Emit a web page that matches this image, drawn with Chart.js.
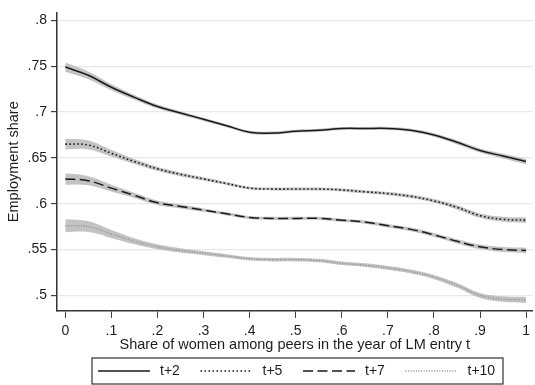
<!DOCTYPE html>
<html>
<head>
<meta charset="utf-8">
<script src="https://cdn.jsdelivr.net/npm/chart.js@4.4.1/dist/chart.umd.min.js"></script>
<style>
  html, body { margin: 0; padding: 0; background: #fff; }
  canvas { display: block; }
</style>
</head>
<body>
<canvas id="chart" width="535" height="385"></canvas>
<script>
// share of women among peers (x)
const shareX = [0, 0.05, 0.1, 0.15, 0.2, 0.25, 0.3, 0.35, 0.4, 0.45, 0.5, 0.55, 0.6, 0.65, 0.7, 0.75, 0.8, 0.85, 0.9, 0.95, 1];

// employment share by horizon
const empT2  = [0.749, 0.740, 0.727, 0.716, 0.706, 0.699, 0.692, 0.685, 0.678, 0.677, 0.679, 0.680, 0.682, 0.682, 0.682, 0.680, 0.675, 0.667, 0.658, 0.652, 0.646];
const empT5  = [0.665, 0.664, 0.655, 0.646, 0.638, 0.632, 0.627, 0.622, 0.617, 0.616, 0.616, 0.616, 0.615, 0.613, 0.611, 0.608, 0.603, 0.596, 0.587, 0.583, 0.582];
const empT7  = [0.627, 0.625, 0.617, 0.609, 0.601, 0.597, 0.593, 0.589, 0.585, 0.584, 0.584, 0.584, 0.582, 0.580, 0.576, 0.572, 0.566, 0.559, 0.553, 0.550, 0.549];
const empT10 = [0.576, 0.575, 0.567, 0.559, 0.553, 0.549, 0.546, 0.543, 0.540, 0.539, 0.539, 0.538, 0.535, 0.533, 0.530, 0.526, 0.520, 0.511, 0.500, 0.496, 0.495];

// half width of the confidence bands
const ciT2  = [0.0050, 0.0042, 0.0032, 0.0026, 0.0022, 0.0019, 0.0017, 0.0016, 0.0016, 0.0016, 0.0016, 0.0016, 0.0016, 0.0016, 0.0017, 0.0018, 0.0019, 0.0021, 0.0023, 0.0026, 0.0030];
const ciT5  = [0.0058, 0.0048, 0.0036, 0.0028, 0.0023, 0.0020, 0.0018, 0.0017, 0.0016, 0.0016, 0.0016, 0.0016, 0.0016, 0.0017, 0.0018, 0.0019, 0.0020, 0.0022, 0.0024, 0.0027, 0.0030];
const ciT7  = [0.0062, 0.0050, 0.0038, 0.0029, 0.0024, 0.0021, 0.0019, 0.0018, 0.0017, 0.0017, 0.0017, 0.0017, 0.0017, 0.0018, 0.0019, 0.0020, 0.0021, 0.0023, 0.0025, 0.0028, 0.0031];
const ciT10 = [0.0070, 0.0058, 0.0044, 0.0033, 0.0027, 0.0023, 0.0021, 0.0020, 0.0019, 0.0019, 0.0019, 0.0019, 0.0019, 0.0020, 0.0021, 0.0022, 0.0023, 0.0025, 0.0027, 0.0030, 0.0033];

const seriesNames = ['t+2', 't+5', 't+7', 't+10'];

const yTicks = [0.5, 0.55, 0.6, 0.65, 0.7, 0.75, 0.8];
const yTickLabels = ['.5', '.55', '.6', '.65', '.7', '.75', '.8'];
const xTicks = [0, 0.1, 0.2, 0.3, 0.4, 0.5, 0.6, 0.7, 0.8, 0.9, 1];
const xTickLabels = ['0', '.1', '.2', '.3', '.4', '.5', '.6', '.7', '.8', '.9', '1'];

const FONT = '"Liberation Sans", Arial, Helvetica, sans-serif';
const TEXT = '#1e1e1e';

const pts = (ys) => shareX.map((x, i) => ({ x, y: ys[i] }));

const lineStyles = [
  { color: '#1a1a1a', width: 1.5, dash: [] },
  { color: '#1a1a1a', width: 1.6, dash: [1.6, 2.4] },
  { color: '#1a1a1a', width: 1.5, dash: [10, 4.5] },
  { color: '#8c8c8c', width: 1.4, dash: [1, 1.6] }
];

const allSeries = [empT2, empT5, empT7, empT10];
const allCi = [ciT2, ciT5, ciT7, ciT10];

const datasets = [];
allSeries.forEach((ys, k) => {
  const ci = allCi[k];
  // band: upper filled down to lower
  datasets.push({
    label: seriesNames[k] + ' upper',
    data: pts(ys.map((v, i) => v + ci[i])),
    borderWidth: 0,
    pointRadius: 0,
    backgroundColor: 'rgba(185,185,185,0.85)',
    fill: '+1',
    tension: 0.4,
    order: 2
  });
  datasets.push({
    label: seriesNames[k] + ' lower',
    data: pts(ys.map((v, i) => v - ci[i])),
    borderWidth: 0,
    pointRadius: 0,
    fill: false,
    tension: 0.4,
    order: 2
  });
});
allSeries.forEach((ys, k) => {
  const s = lineStyles[k];
  datasets.push({
    label: seriesNames[k],
    isLine: true,
    data: pts(ys),
    borderColor: s.color,
    borderWidth: s.width,
    borderDash: s.dash,
    pointRadius: 0,
    fill: false,
    tension: 0.4,
    order: 1
  });
});

// Stata-like boxed legend under the axis title
const legendBox = {
  id: 'legendBox',
  afterDraw(chart) {
    const ctx = chart.ctx;
    const items = chart.data.datasets.filter(d => d.isLine);
    const colW = 102.5, sampleW = 52, gap = 10;
    const boxW = colW * items.length + 1;
    const left = 92, top = 358, h = 26;
    const cy = top + h / 2;
    ctx.save();
    ctx.strokeStyle = '#333';
    ctx.lineWidth = 1.2;
    ctx.strokeRect(left, top, boxW, h);
    ctx.font = '14px ' + FONT;
    ctx.fillStyle = TEXT;
    ctx.textBaseline = 'middle';
    items.forEach((d, i) => {
      const x0 = left + 6 + i * colW;
      ctx.beginPath();
      ctx.strokeStyle = d.borderColor;
      ctx.lineWidth = d.borderWidth;
      ctx.setLineDash(d.borderDash);
      ctx.moveTo(x0, cy);
      ctx.lineTo(x0 + sampleW, cy);
      ctx.stroke();
      ctx.setLineDash([]);
      ctx.fillText(d.label, x0 + sampleW + gap, cy);
    });
    ctx.restore();
  }
};

new Chart(document.getElementById('chart'), {
  type: 'line',
  data: { datasets },
  options: {
    responsive: false,
    animation: false,
    layout: { padding: { top: 10, right: 0, bottom: 31, left: 0 } },
    plugins: {
      legend: { display: false },
      tooltip: { enabled: false }
    },
    scales: {
      x: {
        type: 'linear',
        min: -0.018,
        max: 1.014,
        afterBuildTicks: (scale) => { scale.ticks = xTicks.map(v => ({ value: v })); },
        afterFit: (scale) => { scale.height = 43; },
        ticks: {
          font: { family: FONT, size: 14 },
          color: TEXT,
          padding: 5,
          maxRotation: 0,
          callback: (v) => xTickLabels[xTicks.indexOf(v)]
        },
        grid: { drawOnChartArea: false, color: '#444', tickLength: 7, lineWidth: 1 },
        border: { color: '#333', width: 1.5 },
        title: {
          display: true,
          text: 'Share of women among peers in the year of LM entry t',
          font: { family: FONT, size: 14.5 },
          color: TEXT,
          padding: { top: 0, bottom: 0 }
        }
      },
      y: {
        min: 0.483,
        max: 0.8086,
        afterBuildTicks: (scale) => { scale.ticks = yTicks.map(v => ({ value: v })); },
        afterFit: (scale) => { scale.width = 57; },
        ticks: {
          font: { family: FONT, size: 14 },
          color: TEXT,
          padding: 4,
          callback: (v) => yTickLabels[yTicks.indexOf(v)]
        },
        grid: { color: '#e8e8e8', tickColor: '#444', tickLength: 6, lineWidth: 1.2 },
        border: { color: '#333', width: 1.5 },
        title: {
          display: true,
          text: 'Employment share',
          font: { family: FONT, size: 14.5 },
          color: TEXT,
          padding: { top: 5, bottom: 0 }
        }
      }
    }
  },
  plugins: [legendBox]
});
</script>
</body>
</html>
